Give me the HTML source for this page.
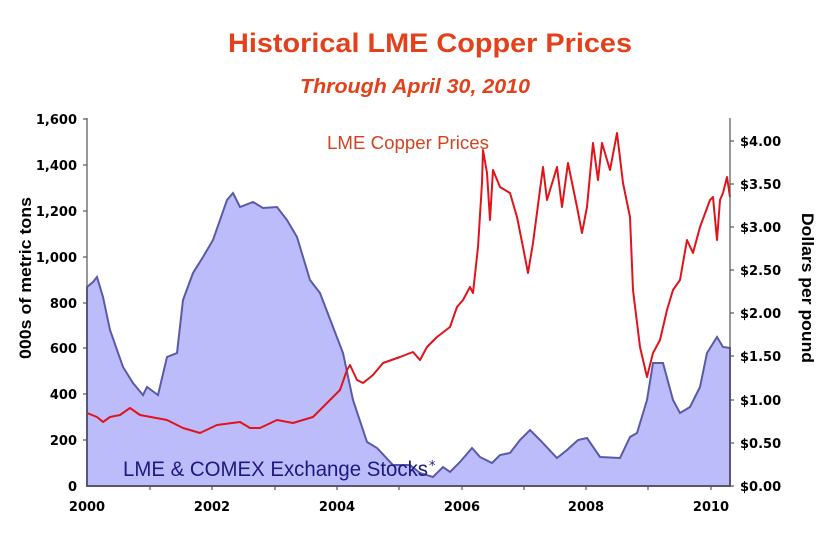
<!DOCTYPE html>
<html><head><meta charset="utf-8"><style>
body{margin:0;background:#fff;}
svg text{font-family:"DejaVu Sans","Liberation Sans",sans-serif;}
</style></head><body>
<svg width="831" height="554" xmlns="http://www.w3.org/2000/svg">
<text x="430" y="52" text-anchor="middle" font-size="27" font-weight="bold" fill="#e2411b" textLength="404" lengthAdjust="spacingAndGlyphs" style="font-family:'Liberation Sans',sans-serif">Historical LME Copper Prices</text>
<text x="415" y="93" text-anchor="middle" font-size="20" font-weight="bold" font-style="italic" fill="#e2411b" textLength="230" lengthAdjust="spacingAndGlyphs" style="font-family:'Liberation Sans',sans-serif">Through April 30, 2010</text>
<polygon fill="#bcbcfa" stroke="#5a5aa8" stroke-width="2" points="87,486 87,287 93,282 97,277 103,297 110,330 123,367 133,383 143,395 147,387 158,395 167,357 177,353 183,300 193,273 203,257 213,240 227,200 233,193 240,207 253,202 263,208 277,207 287,220 297,237 310,280 320,293 333,327 343,353 353,400 367,442 377,448 393,465 410,465 420,473 433,477 443,467 450,472 460,462 472,448 480,457 492,463 500,455 510,453 520,440 530,430 540,440 557,458 567,450 578,440 587,438 600,457 620,458 630,437 637,433 647,400 653,363 663,363 673,400 680,413 690,407 700,387 707,353 717,337 723,347 730,348 730,486"/>
<polyline fill="none" stroke="#e0141a" stroke-width="2" stroke-linejoin="round" points="87,413 97,417 103,422 110,417 120,415 130,408 140,415 167,420 183,428 200,433 217,425 240,422 250,428 260,428 277,420 293,423 313,417 327,403 340,390 347,370 350,365 357,380 363,383 373,375 383,363 400,357 413,352 420,360 427,347 437,337 450,327 457,307 463,300 470,287 473,293 478,247 482,183 483,150 487,173 490,220 493,170 500,187 510,193 517,217 523,247 528,273 533,243 543,167 547,200 557,167 562,207 568,163 577,207 582,233 587,207 593,143 598,180 602,143 610,170 617,133 623,183 630,217 633,290 640,347 647,377 653,353 660,340 667,310 673,290 680,280 687,240 693,253 700,227 710,200 713,197 717,240 720,200 723,193 727,177 730,197"/>
<g stroke="#555" stroke-width="1.2">
<line x1="87" y1="118" x2="87" y2="486"/><line x1="730" y1="118" x2="730" y2="486"/><line x1="87" y1="486" x2="730" y2="486"/>
<line x1="83" y1="119" x2="87" y2="119"/><line x1="83" y1="165" x2="87" y2="165"/><line x1="83" y1="211" x2="87" y2="211"/><line x1="83" y1="257" x2="87" y2="257"/><line x1="83" y1="303" x2="87" y2="303"/><line x1="83" y1="348" x2="87" y2="348"/><line x1="83" y1="394" x2="87" y2="394"/><line x1="83" y1="440" x2="87" y2="440"/>
<line x1="730" y1="141" x2="734" y2="141"/><line x1="730" y1="184" x2="734" y2="184"/><line x1="730" y1="227" x2="734" y2="227"/><line x1="730" y1="270" x2="734" y2="270"/><line x1="730" y1="313" x2="734" y2="313"/><line x1="730" y1="356" x2="734" y2="356"/><line x1="730" y1="400" x2="734" y2="400"/><line x1="730" y1="443" x2="734" y2="443"/><line x1="730" y1="486" x2="734" y2="486"/>
<line x1="150" y1="486" x2="150" y2="490"/><line x1="212" y1="486" x2="212" y2="490"/><line x1="275" y1="486" x2="275" y2="490"/><line x1="337" y1="486" x2="337" y2="490"/><line x1="399" y1="486" x2="399" y2="490"/><line x1="462" y1="486" x2="462" y2="490"/><line x1="524" y1="486" x2="524" y2="490"/><line x1="586" y1="486" x2="586" y2="490"/><line x1="648" y1="486" x2="648" y2="490"/><line x1="711" y1="486" x2="711" y2="490"/>
</g>
<g font-size="13" font-weight="bold" fill="#000" text-anchor="end">
<text x="77" y="124">1,600</text><text x="77" y="170">1,400</text><text x="77" y="216">1,200</text><text x="77" y="262">1,000</text><text x="77" y="308">800</text><text x="77" y="353">600</text><text x="77" y="399">400</text><text x="77" y="445">200</text><text x="77" y="491">0</text>
</g>
<g font-size="13" font-weight="bold" fill="#000">
<text x="740" y="146">$4.00</text><text x="740" y="189">$3.50</text><text x="740" y="232">$3.00</text><text x="740" y="275">$2.50</text><text x="740" y="318">$2.00</text><text x="740" y="361">$1.50</text><text x="740" y="405">$1.00</text><text x="740" y="448">$0.50</text><text x="740" y="491">$0.00</text>
</g>
<text transform="translate(31,278) rotate(-90)" text-anchor="middle" font-size="17" font-weight="bold" textLength="162" lengthAdjust="spacingAndGlyphs" style="font-family:'Liberation Sans',sans-serif">000s of metric tons</text>
<text transform="translate(802,288) rotate(90)" text-anchor="middle" font-size="17" font-weight="bold" textLength="150" lengthAdjust="spacingAndGlyphs" style="font-family:'Liberation Sans',sans-serif">Dollars per pound</text>
<text x="327" y="149" font-size="18" fill="#d2431f" textLength="162" lengthAdjust="spacingAndGlyphs" style="font-family:'Liberation Sans',sans-serif">LME Copper Prices</text>
<text x="123" y="476" font-size="21" fill="#1a1a80" textLength="305" lengthAdjust="spacingAndGlyphs" style="font-family:'Liberation Sans',sans-serif">LME &amp; COMEX Exchange Stocks</text>
<text x="429" y="470" font-size="13" fill="#1a1a80">*</text>
<g font-size="13" font-weight="bold" fill="#000" text-anchor="middle">
<text x="87" y="511">2000</text><text x="212" y="511">2002</text><text x="337" y="511">2004</text><text x="462" y="511">2006</text><text x="586" y="511">2008</text><text x="711" y="511">2010</text>
</g>
</svg>
</body></html>
